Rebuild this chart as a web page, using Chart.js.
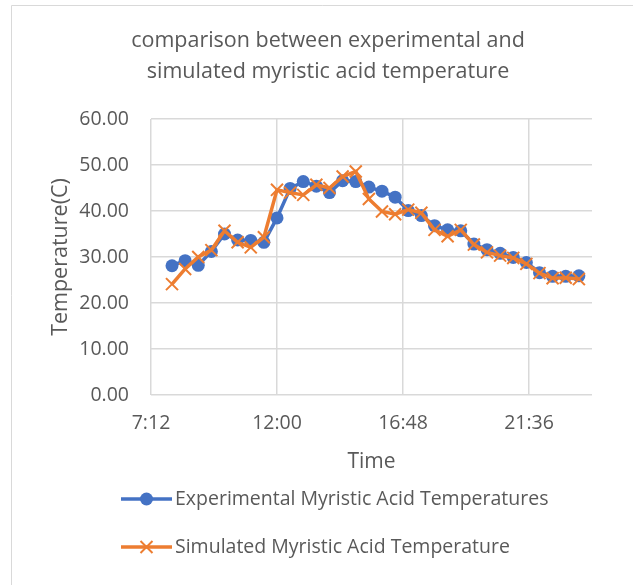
<!DOCTYPE html>
<html>
<head>
<meta charset="utf-8">
<script src="https://cdn.jsdelivr.net/npm/chart.js@4.4.1/dist/chart.umd.min.js"></script>
<style>
html,body{margin:0;padding:0;background:#fff;}
#wrap{position:relative;width:633px;height:585px;}
</style>
</head>
<body>
<div id="wrap"><canvas id="c" width="633" height="585"></canvas></div>
<script>
const times = ["8:00","8:30","9:00","9:30","10:00","10:30","11:00","11:30","12:00","12:30","13:00","13:30","14:00","14:30","15:00","15:30","16:00","16:30","17:00","17:30","18:00","18:30","19:00","19:30","20:00","20:30","21:00","21:30","22:00","22:30","23:00","23:30"];
const experimental = [28.1,29.2,28.2,31.2,35.0,33.7,33.6,33.2,38.5,44.9,46.4,45.4,44.0,46.6,46.4,45.2,44.3,43.0,40.1,39.0,36.8,35.9,35.7,32.8,31.6,30.8,29.9,28.8,26.6,25.8,25.8,25.9];
const simulated = [24.1,27.4,30.0,31.5,35.7,33.2,32.1,34.3,44.6,44.0,43.5,45.7,45.0,47.5,48.6,42.6,39.9,39.3,40.3,39.6,35.9,34.5,35.9,32.7,31.0,30.3,29.8,28.5,26.5,25.4,25.5,25.2];
const xTickHours = [7.2,12,16.8,21.6];
const xTickLabels = ["7:12","12:00","16:48","21:36"];
const yTicks = [0,10,20,30,40,50,60];
const seriesNames = ["Experimental Myristic Acid Temperatures","Simulated Myristic Acid Temperature"];
const titleLines = ["comparison between experimental and","simulated myristic acid temperature"];

const toHours = s => { const [h,m] = s.split(":").map(Number); return h + m/60; };
const BLUE = "#4472C4", ORANGE = "#ED7D31", TXT = "#595959", GRID = "#d9d9d9";
const FONT = "'Open Sans', sans-serif";

const deco = {
  id: 'deco',
  afterDraw(chart) {
    const ctx = chart.ctx;
    ctx.save();
    ctx.strokeStyle = GRID; ctx.lineWidth = 1;
    ctx.beginPath();
    ctx.moveTo(11.5, 585); ctx.lineTo(11.5, 5.5); ctx.lineTo(633, 5.5);
    ctx.stroke();
    // title
    ctx.fillStyle = TXT;
    ctx.font = "21.5px " + FONT;
    ctx.textAlign = "center"; ctx.textBaseline = "middle";
    ctx.fillText(titleLines[0], 328, 41);
    ctx.fillText(titleLines[1], 328, 72);
    // legend
    const rows = [499, 547];
    ctx.textAlign = "left";
    ctx.font = "19.5px " + FONT;
    ctx.strokeStyle = BLUE; ctx.lineWidth = 3.5;
    ctx.beginPath(); ctx.moveTo(121, rows[0]); ctx.lineTo(172, rows[0]); ctx.stroke();
    ctx.fillStyle = BLUE;
    ctx.beginPath(); ctx.arc(146.5, rows[0], 6.5, 0, Math.PI*2); ctx.fill();
    ctx.strokeStyle = ORANGE; ctx.lineWidth = 3.5;
    ctx.beginPath(); ctx.moveTo(121, rows[1]); ctx.lineTo(172, rows[1]); ctx.stroke();
    ctx.lineWidth = 2;
    ctx.beginPath();
    ctx.moveTo(140.5, rows[1]-6); ctx.lineTo(152.5, rows[1]+6);
    ctx.moveTo(152.5, rows[1]-6); ctx.lineTo(140.5, rows[1]+6);
    ctx.stroke();
    ctx.fillStyle = TXT;
    ctx.fillText(seriesNames[0], 175, rows[0]);
    ctx.fillText(seriesNames[1], 175, rows[1]);
    ctx.restore();
  }
};

new Chart(document.getElementById('c'), {
  type: 'line',
  data: {
    datasets: [
      {
        label: seriesNames[0],
        data: times.map((t,i) => ({x: toHours(t), y: experimental[i]})),
        borderColor: BLUE, backgroundColor: BLUE,
        borderWidth: 3.5, pointStyle: 'circle', pointRadius: 6.5,
        pointBorderWidth: 0, pointBackgroundColor: BLUE,
        tension: 0, order: 1
      },
      {
        label: seriesNames[1],
        data: times.map((t,i) => ({x: toHours(t), y: simulated[i]})),
        borderColor: ORANGE, backgroundColor: ORANGE,
        borderWidth: 3.5, pointStyle: 'crossRot', pointRadius: 8.5,
        pointBorderWidth: 2, pointBorderColor: ORANGE,
        tension: 0, order: 0
      }
    ]
  },
  options: {
    responsive: false,
    animation: false,
    devicePixelRatio: 1,
    layout: { padding: { left: 44, top: 119, right: 41, bottom: 106 } },
    plugins: { legend: { display: false }, title: { display: false }, tooltip: { enabled: false } },
    scales: {
      x: {
        type: 'linear', min: 7.2, max: 24,
        afterBuildTicks: s => { s.ticks = xTickHours.map(v => ({value: v})); },
        afterFit: s => { s.height = 84; },
        grid: { color: GRID, lineWidth: 1.5, drawTicks: false },
        border: { display: false },
        ticks: {
          padding: 17, color: TXT, font: { family: FONT, size: 19.5 },
          callback: (v) => { const i = xTickHours.indexOf(v); return i >= 0 ? xTickLabels[i] : ''; },
          maxRotation: 0, autoSkip: false
        },
        title: { display: true, text: 'Time', color: TXT, font: { family: FONT, size: 21 }, padding: { top: 12 } }
      },
      y: {
        min: 0, max: 60,
        afterBuildTicks: s => { s.ticks = yTicks.map(v => ({value: v})); },
        afterFit: s => { s.width = 107; },
        grid: { color: GRID, lineWidth: 1.5, drawTicks: false },
        border: { display: false },
        ticks: { padding: 22, color: TXT, font: { family: FONT, size: 19.5 }, callback: v => Number(v).toFixed(2) },
        title: { display: true, text: 'Temperature(C)', color: TXT, font: { family: FONT, size: 21.5 }, padding: { bottom: 4 } }
      }
    }
  },
  plugins: [deco]
});
</script>
</body>
</html>
